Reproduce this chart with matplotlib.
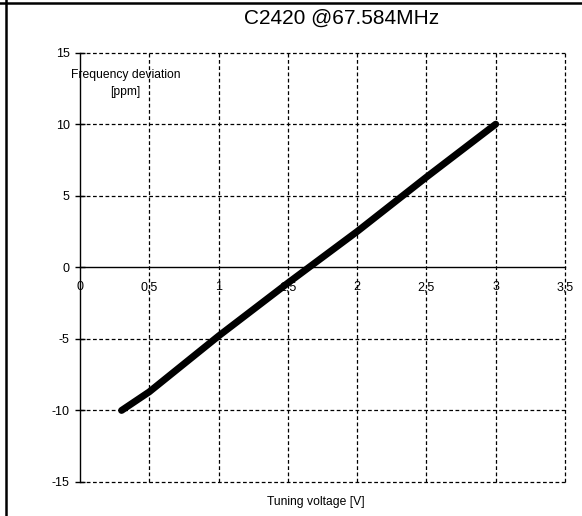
import matplotlib
matplotlib.use("Agg")
import matplotlib.pyplot as plt
from matplotlib.lines import Line2D

plt.rcParams["font.family"] = ["Liberation Sans", "DejaVu Sans"]
plt.rcParams["axes.unicode_minus"] = False

# values
voltage = [0.3, 0.5, 1.0, 1.5, 2.0, 2.5, 3.0]
deviation = [-10.0, -8.7, -4.8, -1.1, 2.5, 6.3, 10.0]

x_ticks = [0, 0.5, 1, 1.5, 2, 2.5, 3, 3.5]
x_labels = ["0", "0,5", "1", "1,5", "2", "2,5", "3", "3,5"]
y_ticks = [-15, -10, -5, 0, 5, 10, 15]

title = "C2420 @67.584MHz"
xlabel = "Tuning voltage [V]"
ylabel = "Frequency deviation\n[ppm]"

fig = plt.figure(figsize=(5.82, 5.16), dpi=100)
ax = fig.add_axes([80 / 582, 1 - 482 / 516, (565 - 80) / 582, (482 - 52.6) / 516])

ax.set_xlim(0, 3.5)
ax.set_ylim(-15, 15)

# dashed grid, including the box edges
dash = dict(color="black", linewidth=0.9, linestyle=(0, (3, 2)), zorder=1)
for xv in x_ticks[1:]:
    ax.axvline(xv, clip_on=False, **dash)
for yv in y_ticks:
    if yv != 0:
        ax.axhline(yv, clip_on=False, **dash)

for side in ["top", "right"]:
    ax.spines[side].set_visible(False)
ax.spines["bottom"].set_position(("data", 0))
ax.spines["bottom"].set_linewidth(1.0)
ax.spines["left"].set_linewidth(1.0)
ax.spines["bottom"].set_zorder(2)

ax.set_xticks(x_ticks)
ax.set_xticklabels(x_labels)
ax.set_yticks(y_ticks)
ax.tick_params(axis="x", length=0, pad=10, labelsize=9)
ax.tick_params(axis="y", direction="inout", length=7, width=1, pad=4,
               labelsize=9)

ax.plot(voltage, deviation, color="black", linewidth=5,
        solid_capstyle="round", zorder=3)

ax.text(0.33, 12.85, ylabel, ha="center", va="center", fontsize=8.7,
        linespacing=1.6, zorder=4)
fig.text(316 / 582, 1 - 502 / 516, xlabel, ha="center", va="center",
         fontsize=8.7)
fig.text(342 / 582, 1 - 18 / 516, title, ha="center", va="center",
         fontsize=15)

# frame lines of the surrounding page
fig.add_artist(Line2D([0, 1], [1 - 2.5 / 516] * 2, color="black",
                      linewidth=1.8, transform=fig.transFigure))
fig.add_artist(Line2D([5.5 / 582] * 2, [0, 1], color="black",
                      linewidth=1.8, transform=fig.transFigure))

fig.savefig("out.png", dpi=100)
